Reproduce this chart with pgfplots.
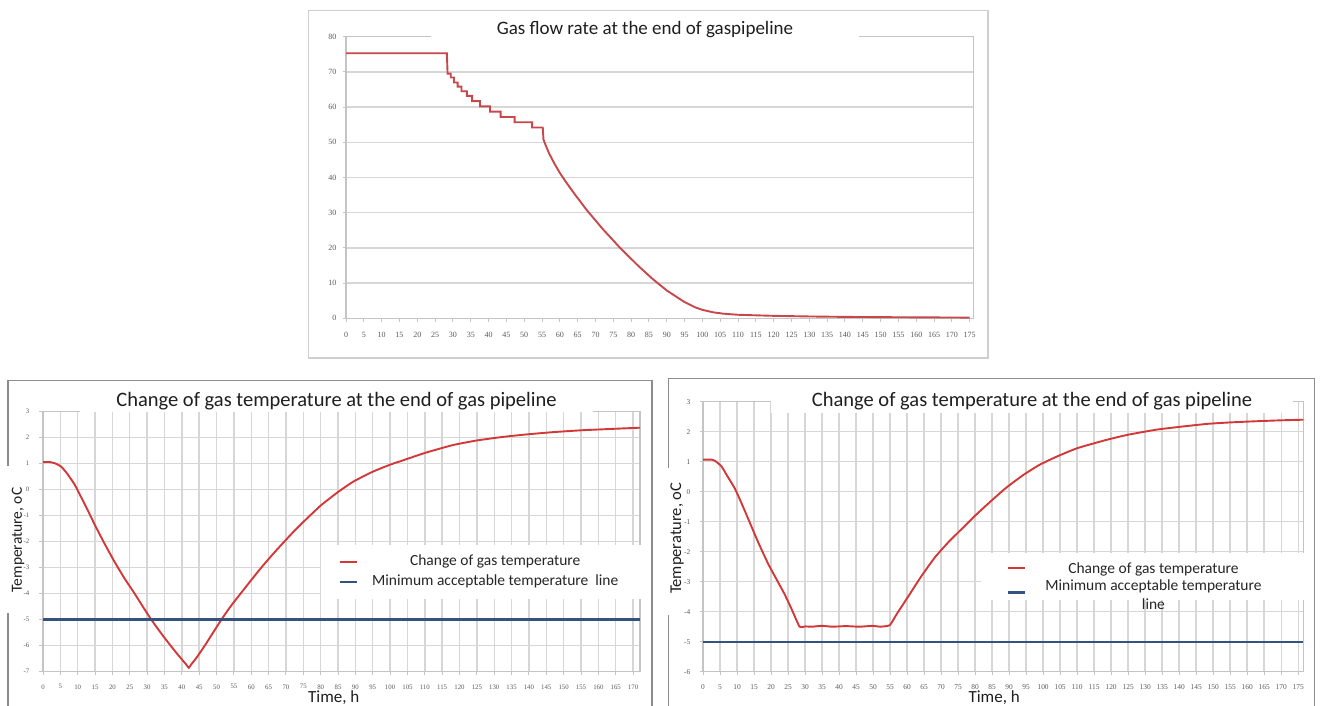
\documentclass[border=0pt]{standalone}
\usepackage{fontspec}
\setmainfont{Liberation Serif}
\newfontfamily\calfont{Carlito}
\usepackage{pgfplots}
\pgfplotsset{compat=1.18}
\definecolor{gridc}{HTML}{D6D6D6}
\definecolor{axisc}{HTML}{C4C4C4}
\definecolor{tickc}{HTML}{595959}
\definecolor{redA}{HTML}{C8474A}
\definecolor{redB}{HTML}{D33838}
\definecolor{blueB}{HTML}{34527E}
\definecolor{framelight}{HTML}{CFCFCF}
\definecolor{framedark}{HTML}{8C8C8C}
\pgfplotsset{
  base/.style={
    scale only axis, anchor=south west,
    axis line style={draw=axisc, line width=1.2pt},
    grid style={draw=gridc, line width=1.4pt},
    tick style={draw=axisc, line width=1pt},
    tick align=outside, major tick length=3.5pt, tick pos=left,
    /pgf/number format/assume math mode=true,
    tick label style={text=tickc},
    xticklabel style={anchor=center, inner sep=0pt},
    yticklabel style={anchor=east, inner sep=0pt},
    title style={font=\calfont\fontsize{20.5}{24}\selectfont, fill=white, inner sep=0pt, anchor=center, text=black!88},
    ylabel style={font=\calfont\fontsize{16}{19}\selectfont, inner sep=0pt, anchor=center, text=black!88},
    xlabel style={font=\calfont\fontsize{17}{20}\selectfont, inner sep=0pt, anchor=north, text=black!88},
    legend image code/.code={\draw[#1] (0pt,0pt) -- (17pt,0pt);},
    legend style={draw=none, fill=white, anchor=north west, font=\calfont\fontsize{15.5}{18.6}\selectfont, text=black!85},
  },
  shiftedimg/.style={legend image code/.code={\path (0pt,7pt); \draw[##1] (0pt,-7pt) -- (17pt,-7pt);}},
}
\begin{document}
\begin{tikzpicture}
\useasboundingbox (0,0) rectangle (1323pt,-706pt);

% ---------- top: gas flow rate ----------
\begin{axis}[base,
  at={(346pt,-318.3pt)}, width=627.3pt, height=281.6pt,
  xmin=0, xmax=176, ymin=0, ymax=80,
  xtick={0,5,...,175}, ytick={0,10,...,80},
  ymajorgrids,
  tick label style={font=\fontsize{8}{9}\selectfont},
  xticklabel style={yshift=-13.4pt},
  yticklabel style={xshift=-6pt},
  title={Gas flow rate at the end of gaspipeline},
  title style={font=\calfont\fontsize{19}{22}\selectfont, at={(axis description cs:0.4766,1.0344)}, yshift=-9pt, minimum width=428pt, minimum height=22pt},
]
\addplot[redA, line width=1.9pt] coordinates {
(0,75.3) (28.3,75.3) (28.5,69.5) (29.4,69.5) (29.4,68.4) (30.3,68.4) (30.3,67.0)
(31.3,67.0) (31.3,65.8) (32.4,65.8) (32.4,64.5) (33.9,64.5) (33.9,63.2) (35.4,63.2)
(35.4,61.7) (37.6,61.7) (37.6,60.2) (40.4,60.2) (40.4,58.7) (43.4,58.7) (43.4,57.2)
(47.3,57.2) (47.3,55.7) (52.2,55.7) (52.2,54.2) (55.2,54.2) (55.4,50.8) (56,49.2)
(57,46.8) (58.5,43.9) (60,41.3) (62,38.3) (64,35.5) (67.5,30.8) (72,25.4) (77,19.9)
(82,14.9) (86,11.2) (90,7.9) (95,4.6) (98,3.1) (100,2.4) (103,1.7) (106,1.3) (110,1.0)
(120,0.7) (130,0.52) (140,0.4) (155,0.3) (175,0.2)
};
\end{axis}

% ---------- bottom left ----------
\begin{axis}[base,
  at={(43pt,-671.7pt)}, width=597pt, height=260.4pt,
  xmin=0, xmax=172, ymin=-7, ymax=3,
  xtick={0,5,...,170}, ytick={-7,-6,...,3},
  grid=major,
  tick label style={font=\fontsize{6.8}{8}\selectfont},
  xticklabel style={yshift=-11.6pt},
  yticklabel style={xshift=-10pt},
  title={Change of gas temperature at the end of gas pipeline},
  title style={at={(axis description cs:0.4916,1.0434)}, yshift=-7pt, minimum width=513pt, minimum height=23pt},
  ylabel={Temperature, oC},
  ylabel style={at={(axis description cs:-0.0419,0.506)}, font=\calfont\fontsize{15.5}{18}\selectfont},
  xlabel={Time, h},
  xlabel style={at={(axis description cs:0.487,0)}, yshift=-19pt},
  legend style={at={(axis description cs:0.4652,0.4877)}, inner xsep=18pt, inner ysep=7pt,
     nodes={inner sep=2pt, text height=12pt, text depth=4pt}},
]
\addplot[redB, line width=1.9pt, smooth, tension=0.3] coordinates {
(0,1.05) (2,1.05) (3.5,1.0) (5.3,0.87) (7,0.6) (9.1,0.19) (11,-0.3) (13,-0.83)
(15,-1.38) (17.8,-2.1) (20.7,-2.8) (23.5,-3.42) (26.4,-4.0) (29,-4.55) (31.2,-5.0)
(34,-5.52) (36,-5.87) (39,-6.37) (41.3,-6.73) (42,-6.85) (42.7,-6.72) (44.3,-6.45) (46.6,-6.0) (49,-5.5)
(51.4,-5.0) (54,-4.5) (57.1,-3.97) (60,-3.48) (62.9,-3.0) (66,-2.52) (69.2,-2.05)
(72,-1.65) (75,-1.25) (80,-0.62) (85,-0.1) (89.4,0.3) (95,0.68) (100,0.95) (103.8,1.12) (110,1.4)
(118,1.7) (125,1.88) (132.7,2.02) (140,2.12) (147,2.2) (155,2.27) (161.5,2.31) (172,2.37)
};
\addlegendentry{\makebox[270pt][c]{Change of gas temperature}}
\addplot[blueB, line width=2.3pt] coordinates {(0,-5) (172,-5)};
\addlegendentry{\makebox[270pt][c]{Minimum acceptable temperature\ \ line}}
\end{axis}

% ---------- bottom right ----------
\begin{axis}[base,
  at={(703pt,-671.7pt)}, width=600.3pt, height=270pt,
  xmin=0, xmax=176.5, ymin=-6, ymax=3,
  xtick={0,5,...,175}, ytick={-6,-5,...,3},
  grid=major,
  tick label style={font=\fontsize{7.4}{8.5}\selectfont},
  xticklabel style={yshift=-11.6pt},
  yticklabel style={xshift=-9pt},
  title={Change of gas temperature at the end of gas pipeline},
  title style={at={(axis description cs:0.548,1.0063)}, yshift=-7pt, minimum width=522pt, minimum height=23pt},
  ylabel={Temperature, oC},
  ylabel style={at={(axis description cs:-0.0433,0.494)}, font=\calfont\fontsize{16.5}{19}\selectfont},
  xlabel={Time, h},
  xlabel style={at={(axis description cs:0.485,0)}, yshift=-19pt},
  legend style={at={(axis description cs:0.463,0.4396)}, inner xsep=26pt, inner ysep=6pt,
     nodes={inner sep=2pt, text height=12pt}},
]
\addplot[redB, line width=1.9pt, smooth, tension=0.3] coordinates {
(0,1.07) (2.4,1.07) (3.5,1.03) (5.4,0.85) (7,0.55) (9.3,0.12) (11,-0.3) (13.2,-0.88)
(16.2,-1.68) (19.1,-2.39) (22,-3.0) (24,-3.42) (26,-3.9) (28.4,-4.5) (30,-4.49)
(32,-4.5) (35,-4.47) (38,-4.5) (42,-4.48) (46,-4.5) (50,-4.47) (52,-4.5) (54.9,-4.45)
(57,-4.07) (60.3,-3.5) (64,-2.85) (68.1,-2.2) (72,-1.7) (75.9,-1.26) (80,-0.8)
(84.4,-0.34) (89,0.12) (94.2,0.56) (99,0.9) (104,1.17) (110,1.45) (118.7,1.73) (125,1.9) (133.4,2.07)
(140,2.16) (148.1,2.26) (155,2.31) (162.9,2.35) (170,2.38) (176.5,2.4)
};
\addlegendentry{\makebox[250pt][c]{Change of gas temperature}}
\addplot[blueB, line width=2.3pt, shiftedimg] coordinates {(0,-5) (176.5,-5)};
\addlegendentry{\makebox[250pt][c]{\begin{tabular}[t]{@{}c@{}}Minimum acceptable temperature\\line\end{tabular}}}
\end{axis}

% ---------- panel frames ----------
\draw[draw=framelight, line width=1.3pt] (308.5pt,-10.5pt) rectangle (988pt,-358pt);
\draw[draw=framedark, line width=1.3pt] (8pt,-466pt) -- (8pt,-380.5pt) -- (652pt,-380.5pt) -- (652pt,-730pt);
\draw[draw=framedark, line width=1.3pt] (8pt,-613pt) -- (8pt,-730pt);
\draw[draw=framedark, line width=1.3pt] (668.5pt,-468pt) -- (668.5pt,-378.5pt) -- (1314.5pt,-378.5pt) -- (1314.5pt,-730pt);
\draw[draw=framedark, line width=1.3pt] (668.5pt,-615pt) -- (668.5pt,-730pt);
\end{tikzpicture}
\end{document}
